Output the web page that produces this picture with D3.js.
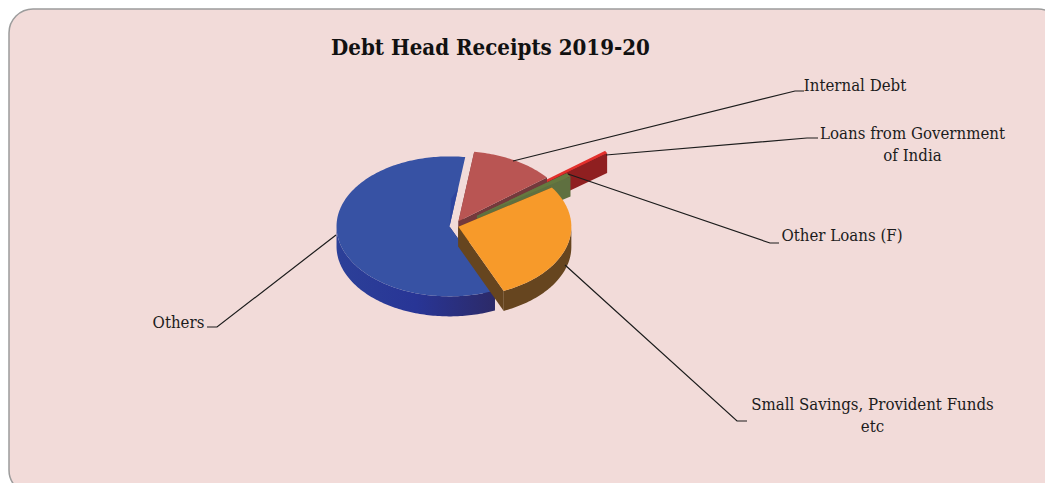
<!DOCTYPE html>
<html>
<head>
<meta charset="utf-8">
<title>Debt Head Receipts 2019-20</title>
<script src="https://cdn.jsdelivr.net/npm/d3@7"></script>
<style>
  html,body{margin:0;padding:0;background:#fff}
  svg{display:block}
  text{font-family:"DejaVu Serif Condensed","DejaVu Serif",serif;fill:#1c1c1c}
</style>
</head>
<body>
<svg id="chart" width="1045" height="483"></svg>
<script>
// values, share of receipts in percent
const categories=["Internal Debt","Loans from Government of India","Other Loans (F)","Small Savings, Provident Funds etc","Others"]
const shares=[12.1,0.3,0.9,27.9,58.8]

// styles, same order as categories
const faceCol=["#b95553","#e3302c","#65793f","#f79a2a","#3752a4"]
const wallCol=["#74393c","#8f1f20","#5f7040","#66451f","#2b2a68"]
const explode=[0.08,0.71,0.25,0.04,0.04]
const paintOrder=[1,0,2,4,3]

const W=1045,H=483
const cx=454,cy=226,rx=113,ry=70,depth=20
const startDeg=8

const svg=d3.select("#chart")

const grad=svg.append("defs").append("linearGradient").attr("id","blueWall")
grad.append("stop").attr("offset","0").attr("stop-color","#2c4098")
grad.append("stop").attr("offset","0.5").attr("stop-color","#283596")
grad.append("stop").attr("offset","1").attr("stop-color","#2c2a68")

svg.append("rect").attr("x",9).attr("y",9).attr("width",1053).attr("height",485).attr("rx",24)
  .attr("fill","#f2dbd9").attr("stroke","#9c9c9c").attr("stroke-width",1.5)

// flat pie, then squashed to the ellipse by hand
const arcs=d3.pie().sort(null).startAngle(startDeg*Math.PI/180).endAngle((startDeg+360)*Math.PI/180)(shares)
const pt=(a,r)=>[rx*r*Math.sin(a),-ry*r*Math.cos(a)]
const lerp=(p,q,t)=>[p[0]+(q[0]-p[0])*t,p[1]+(q[1]-p[1])*t]

arcs.forEach((d,i)=>{
  const mid=(d.startAngle+d.endAngle)/2
  const off=pt(mid,explode[i])
  d.ox=cx+off[0]; d.oy=cy+off[1]
})

const line=d3.line()
const g=svg.append("g")

paintOrder.forEach(i=>{
  const d=arcs[i]
  const pts=[]
  const n=Math.max(2,Math.ceil((d.endAngle-d.startAngle)/0.02))
  d3.range(n+1).forEach(k=>{
    const a=d.startAngle+(d.endAngle-d.startAngle)*k/n
    const p=pt(a,1)
    pts.push([d.ox+p[0],d.oy+p[1],a])
  })
  const s=g.append("g")
  const apex=[d.ox,d.oy]
  const first=pts[0],last=pts[pts.length-1]
  const wall=(p)=>s.append("path").attr("d",line([apex,[p[0],p[1]],[p[0],p[1]+depth],[d.ox,d.oy+depth]])+"Z").attr("fill",wallCol[i])
  // cut walls, the big slice has its top cut turned away
  wall(first)
  if(i!=4) wall(last)
  // outer wall, only the front half of the rim shows
  const vis=pts.filter(p=>Math.cos(p[2])<0)
  if(vis.length>1){
    const down=vis.map(p=>[p[0],p[1]+depth]).reverse()
    s.append("path").attr("d",line(vis.concat(down))+"Z").attr("fill",i==4?"url(#blueWall)":wallCol[i])
  }
  s.append("path").attr("d",line([apex].concat(pts.map(p=>[p[0],p[1]])))+"Z").attr("fill",faceCol[i])
  if(i==4){
    // darker strip along the top cut
    s.append("path").attr("d",line([apex,lerp(apex,last,0.55),lerp(apex,pts[pts.length-6],0.4)])+"Z").attr("fill","#2f459f")
  }
  if(i==1){
    // bright rim of the thin slice
    s.append("path").attr("d",line([apex,[first[0],first[1]]])).attr("stroke","#e3302c").attr("stroke-width",2.5).attr("fill","none")
  }
})

// leader lines and labels
const leaders=[
  [[513,161],[795,91],[804,91]],
  [[606,155],[807,138],[818,138]],
  [[568,174],[770,243],[779,243]],
  [[565,265],[737,421],[747,421]],
  [[336,235],[217,327],[207,327]]
]
const labelLines=[["Internal Debt"],["Loans from Government","of India"],["Other Loans (F)"],["Small Savings, Provident Funds","etc"],["Others"]]
const labelPos=[[855,91],[912.5,139],[842,241],[872.5,410],[178.5,328]]

leaders.forEach(l=>{
  svg.append("path").attr("d",line(l)).attr("fill","none").attr("stroke","#1c1c1c").attr("stroke-width",1.2)
})
labelLines.forEach((ls,i)=>{
  ls.forEach((t,k)=>{
    svg.append("text").attr("x",labelPos[i][0]).attr("y",labelPos[i][1]+k*22).attr("text-anchor","middle")
      .attr("font-size",16.7).text(t)
  })
})

svg.append("text").attr("x",490.5).attr("y",55).attr("text-anchor","middle")
  .attr("font-size",22.1).attr("font-weight","bold").style("fill","#111").text("Debt Head Receipts 2019-20")
</script>
</body>
</html>
